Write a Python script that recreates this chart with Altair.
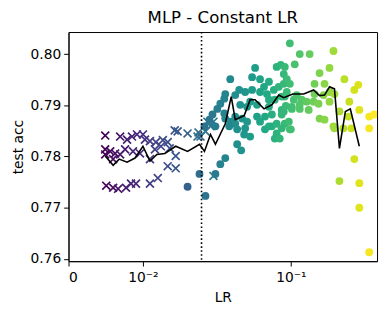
import altair as alt
import pandas as pd

# ---- data ----
cross_lr = [0.00378, 0.00589, 0.00702, 0.00788, 0.00881, 0.0100, 0.01042, 0.01152, 0.01291, 0.0147,
            0.01603, 0.01811, 0.01903, 0.02243, 0.02671, 0.02756, 0.00378, 0.00378, 0.00444, 0.00514,
            0.00589, 0.00485, 0.00669, 0.00806, 0.0094, 0.01152, 0.01268, 0.01418, 0.01662, 0.01842,
            0.01603, 0.01842, 0.00391, 0.00485, 0.00558, 0.00685, 0.00771, 0.00862, 0.01152, 0.01339,
            0.02975, 0.03065, 0.0336, 0.02629, 0.0336, 0.03212]
cross_acc = [0.7841, 0.7839, 0.7833, 0.7839, 0.7843, 0.7843, 0.7833, 0.7830, 0.7828, 0.7832,
             0.7828, 0.7851, 0.7849, 0.7845, 0.7847, 0.7839, 0.7814, 0.7804, 0.7810, 0.7806,
             0.7804, 0.7795, 0.7814, 0.7810, 0.7806, 0.7795, 0.7814, 0.7820, 0.7816, 0.7801,
             0.7781, 0.7777, 0.7743, 0.7739, 0.7737, 0.7739, 0.7747, 0.7747, 0.7747, 0.7758,
             0.7849, 0.7868, 0.7868, 0.7839, 0.7762, 0.7859]

circle_lr = [0.02243, 0.02713, 0.02975, 0.03163, 0.0293, 0.0346, 0.03722, 0.04004, 0.04759, 0.05039,
             0.0346, 0.04004, 0.04308, 0.04628, 0.05258, 0.05332, 0.07035, 0.0773, 0.08256, 0.08045,
             0.09215, 0.09865, 0.0909, 0.1013, 0.04308, 0.0588, 0.06132, 0.06568, 0.08256, 0.08724,
             0.0909, 0.07426, 0.0694, 0.06568, 0.0588, 0.05332, 0.04899, 0.04628, 0.04004, 0.03946,
             0.07226, 0.0794, 0.0849, 0.0909, 0.0884, 0.08045, 0.07426, 0.07426, 0.06298, 0.0572,
             0.0548, 0.04969, 0.03722, 0.0356, 0.0331, 0.03946, 0.0511, 0.0548, 0.04628, 0.04246,
             0.04759, 0.0572, 0.07035, 0.0773, 0.0884, 0.08256, 0.0884, 0.07426, 0.06298, 0.06568,
             0.08607, 0.0884, 0.09865, 0.1127, 0.1285, 0.1054, 0.176, 0.1671, 0.1466, 0.09215,
             0.09466, 0.09865, 0.1372, 0.1565, 0.203, 0.2432, 0.231, 0.2165, 0.1671, 0.1903,
             0.2464, 0.2138, 0.1783, 0.2221, 0.2801, 0.2986, 0.2801, 0.1466, 0.1565, 0.1127,
             0.1269, 0.1013, 0.0934, 0.1041, 0.1157, 0.1235, 0.1355, 0.1446, 0.09732, 0.1000,
             0.1127, 0.1082, 0.09215, 0.09466, 0.231, 0.1903, 0.2464, 0.2464, 0.2801, 0.2004,
             0.176, 0.1372, 0.1545, 0.1783, 0.1671]
circle_acc = [0.7741, 0.7766, 0.7723, 0.7872, 0.7859, 0.7766, 0.7785, 0.7797, 0.7824, 0.7812,
              0.7859, 0.7874, 0.7868, 0.7878, 0.7843, 0.7855, 0.7853, 0.7859, 0.7845, 0.7835,
              0.7864, 0.7853, 0.7888, 0.7897, 0.7951, 0.7955, 0.7973, 0.7951, 0.7975, 0.7979,
              0.7961, 0.7946, 0.7936, 0.7926, 0.7930, 0.7926, 0.7930, 0.7920, 0.7922, 0.7913,
              0.7922, 0.7930, 0.7936, 0.7942, 0.7917, 0.7911, 0.7911, 0.7897, 0.7901, 0.7907,
              0.7897, 0.7901, 0.7903, 0.7893, 0.7882, 0.7884, 0.7874, 0.7868, 0.7864, 0.7859,
              0.7853, 0.7839, 0.7878, 0.7882, 0.7882, 0.7864, 0.7855, 0.7859, 0.7878, 0.7868,
              0.7835, 0.7891, 0.8021, 0.8000, 0.8000, 0.7980, 0.8006, 0.7973, 0.7963, 0.7975,
              0.7951, 0.7942, 0.7942, 0.7942, 0.7951, 0.7940, 0.7930, 0.7907, 0.7926, 0.7888,
              0.7891, 0.7878, 0.7855, 0.7855, 0.7878, 0.7882, 0.7855, 0.7874, 0.7872, 0.7893,
              0.7891, 0.7893, 0.7899, 0.7911, 0.7911, 0.7907, 0.7907, 0.7903, 0.7868, 0.7853,
              0.7901, 0.7920, 0.7917, 0.7926, 0.7795, 0.7752, 0.7748, 0.7700, 0.7613, 0.7855,
              0.7859, 0.7922, 0.7920, 0.7922, 0.7907]

mean_lr = [0.00378, 0.00485, 0.00574, 0.00702, 0.00844, 0.0100, 0.01152, 0.01315, 0.01523, 0.01842,
           0.02243, 0.02713, 0.0293, 0.03212, 0.0346, 0.04005, 0.04368, 0.04627, 0.05258, 0.0572,
           0.06131, 0.0694, 0.0773, 0.0849, 0.0909, 0.1027, 0.1188, 0.1355, 0.1466, 0.1565,
           0.1671, 0.1783, 0.1903, 0.2056, 0.2193, 0.2464]
mean_acc = [0.7801, 0.7783, 0.7795, 0.7789, 0.7797, 0.7820, 0.7791, 0.7804, 0.7806, 0.7820,
            0.7810, 0.7824, 0.7810, 0.7843, 0.7824, 0.7864, 0.7917, 0.7872, 0.7880, 0.7911,
            0.7911, 0.7893, 0.7901, 0.7920, 0.7915, 0.7922, 0.7922, 0.7930, 0.7919, 0.7920,
            0.7936, 0.7932, 0.7816, 0.7888, 0.7893, 0.7820]

threshold_lr = [0.028]
x_ticks = [0, 0.01, 0.1]
y_ticks = [0.76, 0.77, 0.78, 0.79, 0.80]

FONT = "DejaVu Sans"

crosses = pd.DataFrame({"lr": cross_lr, "acc": cross_acc})
circles = pd.DataFrame({"lr": circle_lr, "acc": circle_acc})
means = pd.DataFrame({"lr": mean_lr, "acc": mean_acc})
thr = pd.DataFrame({"lr": threshold_lr})

xscale = alt.Scale(type="symlog", constant=0.0064, domain=[0, 0.31], nice=False)
yscale = alt.Scale(domain=[0.75956, 0.80431], nice=False, zero=False)
cscale = alt.Scale(type="symlog", constant=0.0064, scheme="viridis", domain=[0.0037, 0.29])

xaxis = alt.Axis(values=x_ticks, title="LR",
                 labelExpr="datum.value == 0 ? '0' : (datum.value < 0.05 ? '10⁻²' : '10⁻¹')")
yaxis = alt.Axis(values=y_ticks, format=".2f", title="test acc")

x = alt.X("lr:Q", scale=xscale, axis=xaxis)
y = alt.Y("acc:Q", scale=yscale, axis=yaxis)
color = alt.Color("lr:Q", scale=cscale, legend=None)

cross_layer = alt.Chart(crosses).mark_point(
    shape="M-1,-1L1,1M-1,1L1,-1", filled=False, strokeWidth=1.7, size=64, opacity=1, clip=True
).encode(x=x, y=y, color=color)

circle_layer = alt.Chart(circles).mark_circle(size=62, opacity=1, clip=True).encode(
    x=x, y=y, color=color)

line_layer = alt.Chart(means).mark_line(color="black", strokeWidth=1.6, clip=True).encode(
    x=x, y=y)

rule_layer = alt.Chart(thr).mark_rule(color="black", strokeWidth=1.6, strokeDash=[1.6, 2.4]).encode(
    x=alt.X("lr:Q", scale=xscale))

chart = alt.layer(cross_layer, circle_layer, line_layer, rule_layer).properties(
    width=311, height=231,
    title=alt.TitleParams("MLP - Constant LR", font=FONT, fontSize=16.7, fontWeight="normal",
                          color="black", offset=5),
    padding={"left": 3, "top": 0, "right": 5, "bottom": 5},
).configure_view(stroke="black", strokeWidth=1).configure_axis(
    grid=False, domainColor="black", tickColor="black", labelColor="black", titleColor="black",
    labelFont=FONT, titleFont=FONT, labelFontSize=13.9, titleFontSize=13.9,
    titleFontWeight="normal", tickSize=4.9, labelPadding=3, domainWidth=1, tickWidth=1,
).configure_axisY(titlePadding=5).configure_axisX(labelPadding=5, titlePadding=6)

chart.save("out.html", embed_options={"renderer": "svg", "actions": False})
